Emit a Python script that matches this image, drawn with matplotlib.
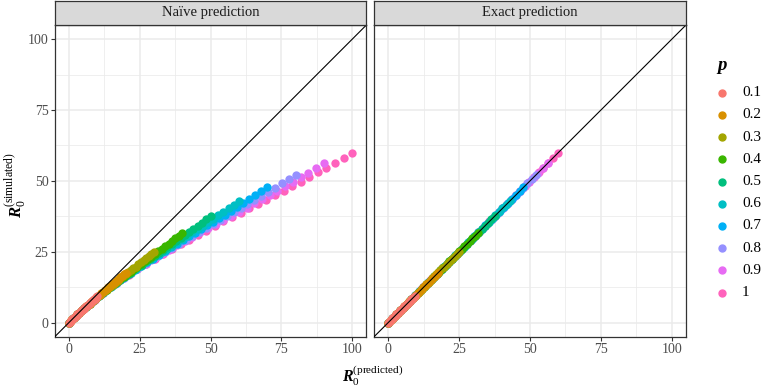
import matplotlib
matplotlib.use('Agg')
import matplotlib.pyplot as plt
from matplotlib.lines import Line2D

plt.rcParams['font.family'] = 'Liberation Serif'
plt.rcParams['mathtext.fontset'] = 'custom'
plt.rcParams['mathtext.rm'] = 'Liberation Serif'
plt.rcParams['mathtext.it'] = 'Liberation Serif:italic'
plt.rcParams['mathtext.bf'] = 'Liberation Serif:bold'
plt.rcParams['mathtext.bfit'] = 'Liberation Serif:italic:bold'

p_labels = ['0.1', '0.2', '0.3', '0.4', '0.5', '0.6', '0.7', '0.8', '0.9', '1']
colors = ['#F8766D', '#D89000', '#A3A500', '#39B600', '#00BF7D',
          '#00BFC4', '#00B0F6', '#9590FF', '#E76BF3', '#FF62BC']
panel_titles = ['Naïve prediction', 'Exact prediction']

# naive predicted R0 / simulated R0, one pair per p
pred_01 = [0, 0.3, 0.6, 0.9, 1.2, 1.5, 1.8, 2.1, 2.4, 2.7, 3.0, 3.3, 3.6, 3.9, 4.2, 4.5, 4.8,
           5.2, 5.5, 5.8, 6.1, 6.4, 6.7, 7.0, 7.3, 7.6, 7.9, 8.2, 8.5, 8.8, 9.1, 9.4, 9.7, 10.0]
sim_01 = [0, 0.3, 0.6, 0.9, 1.2, 1.5, 1.8, 2.1, 2.4, 2.6, 2.9, 3.2, 3.5, 3.8, 4.1, 4.3, 4.6,
          4.9, 5.2, 5.5, 5.7, 6.0, 6.3, 6.6, 6.9, 7.1, 7.4, 7.7, 8.0, 8.2, 8.5, 8.8, 9.1, 9.4]

pred_02 = [0, 0.6, 1.2, 1.8, 2.4, 3.0, 3.6, 4.2, 4.8, 5.5, 6.1, 6.7, 7.3, 7.9, 8.5, 9.1, 9.7,
           10.3, 10.9, 11.5, 12.1, 12.7, 13.3, 13.9, 14.5, 15.2, 15.8, 16.4, 17.0, 17.6, 18.2, 18.8, 19.4, 20.0]
sim_02 = [0, 0.6, 1.2, 1.8, 2.4, 2.9, 3.5, 4.0, 4.6, 5.1, 5.7, 6.2, 6.7, 7.3, 7.8, 8.3, 8.8,
          9.3, 9.9, 10.4, 10.9, 11.4, 11.9, 12.4, 12.9, 13.5, 14.0, 14.5, 15.0, 15.5, 16.1, 16.6, 17.1, 17.6]

pred_03 = [0, 0.9, 1.8, 2.7, 3.6, 4.5, 5.5, 6.4, 7.3, 8.2, 9.1, 10.0, 10.9, 11.8, 12.7, 13.6, 14.5,
           15.5, 16.4, 17.3, 18.2, 19.1, 20.0, 20.9, 21.8, 22.7, 23.6, 24.5, 25.5, 26.4, 27.3, 28.2, 29.1, 30.0]
sim_03 = [0, 0.9, 1.8, 2.6, 3.5, 4.3, 5.1, 5.9, 6.7, 7.5, 8.2, 9.0, 9.7, 10.5, 11.2, 12.0, 12.7,
          13.4, 14.1, 14.8, 15.6, 16.3, 17.0, 17.7, 18.4, 19.1, 19.8, 20.6, 21.3, 22.0, 22.8, 23.5, 24.2, 25.0]

pred_04 = [0, 1.2, 2.4, 3.6, 4.8, 6.1, 7.3, 8.5, 9.7, 10.9, 12.1, 13.3, 14.5, 15.8, 17.0, 18.2, 19.4,
           20.6, 21.8, 23.0, 24.2, 25.5, 26.7, 27.9, 29.1, 30.3, 31.5, 32.7, 33.9, 35.2, 36.4, 37.6, 38.8, 40.0]
sim_04 = [0, 1.2, 2.4, 3.5, 4.6, 5.6, 6.7, 7.7, 8.7, 9.7, 10.7, 11.6, 12.6, 13.5, 14.4, 15.3, 16.2,
          17.1, 18.0, 18.9, 19.8, 20.7, 21.6, 22.4, 23.3, 24.2, 25.1, 26.0, 26.9, 27.8, 28.8, 29.7, 30.6, 31.6]

pred_05 = [0, 1.5, 3.0, 4.5, 6.1, 7.6, 9.1, 10.6, 12.1, 13.6, 15.2, 16.7, 18.2, 19.7, 21.2, 22.7, 24.2,
           25.8, 27.3, 28.8, 30.3, 31.8, 33.3, 34.8, 36.4, 37.9, 39.4, 40.9, 42.4, 43.9, 45.5, 47.0, 48.5, 50.0]
sim_05 = [0, 1.5, 2.9, 4.3, 5.6, 6.9, 8.2, 9.4, 10.6, 11.8, 12.9, 14.1, 15.2, 16.3, 17.3, 18.4, 19.5,
          20.5, 21.6, 22.6, 23.6, 24.7, 25.7, 26.8, 27.8, 28.8, 29.9, 30.9, 32.0, 33.1, 34.2, 35.3, 36.4, 37.5]

pred_06 = [0, 1.8, 3.6, 5.5, 7.3, 9.1, 10.9, 12.7, 14.5, 16.4, 18.2, 20.0, 21.8, 23.6, 25.5, 27.3, 29.1,
           30.9, 32.7, 34.5, 36.4, 38.2, 40.0, 41.8, 43.6, 45.5, 47.3, 49.1, 50.9, 52.7, 54.5, 56.4, 58.2, 60.0]
sim_06 = [0, 1.8, 3.5, 5.1, 6.7, 8.2, 9.6, 11.1, 12.4, 13.8, 15.1, 16.4, 17.6, 18.9, 20.1, 21.3, 22.5,
          23.7, 24.8, 26.0, 27.2, 28.3, 29.5, 30.7, 31.8, 33.0, 34.2, 35.4, 36.6, 37.8, 39.1, 40.3, 41.6, 42.9]

pred_07 = [0, 2.1, 4.2, 6.4, 8.5, 10.6, 12.7, 14.8, 17.0, 19.1, 21.2, 23.3, 25.5, 27.6, 29.7, 31.8, 33.9,
           36.1, 38.2, 40.3, 42.4, 44.5, 46.7, 48.8, 50.9, 53.0, 55.2, 57.3, 59.4, 61.5, 63.6, 65.8, 67.9, 70.0]
sim_07 = [0, 2.1, 4.0, 5.9, 7.7, 9.4, 11.0, 12.6, 14.2, 15.7, 17.1, 18.5, 19.9, 21.3, 22.6, 24.0, 25.3,
          26.6, 27.9, 29.1, 30.4, 31.7, 33.0, 34.3, 35.6, 36.8, 38.1, 39.5, 40.8, 42.1, 43.5, 44.9, 46.3, 47.7]

pred_08 = [0, 2.4, 4.8, 7.3, 9.7, 12.1, 14.5, 17.0, 19.4, 21.8, 24.2, 26.7, 29.1, 31.5, 33.9, 36.4, 38.8,
           41.2, 43.6, 46.1, 48.5, 50.9, 53.3, 55.8, 58.2, 60.6, 63.0, 65.5, 67.9, 70.3, 72.7, 75.2, 77.6, 80.0]
sim_08 = [0, 2.3, 4.6, 6.7, 8.6, 10.5, 12.4, 14.1, 15.8, 17.4, 19.0, 20.6, 22.1, 23.6, 25.0, 26.5, 27.9,
          29.3, 30.7, 32.0, 33.4, 34.8, 36.2, 37.6, 39.0, 40.4, 41.8, 43.2, 44.6, 46.1, 47.6, 49.1, 50.6, 52.2]

pred_09 = [0, 2.7, 5.5, 8.2, 10.9, 13.6, 16.4, 19.1, 21.8, 24.5, 27.3, 30.0, 32.7, 35.5, 38.2, 40.9, 43.6,
           46.4, 49.1, 51.8, 54.5, 57.3, 60.0, 62.7, 65.5, 68.2, 70.9, 73.6, 76.4, 79.1, 81.8, 84.5, 87.3, 90.0]
sim_09 = [0, 2.6, 5.1, 7.4, 9.6, 11.7, 13.7, 15.6, 17.4, 19.1, 20.8, 22.5, 24.1, 25.7, 27.3, 28.8, 30.3,
          31.8, 33.3, 34.7, 36.2, 37.7, 39.1, 40.6, 42.1, 43.6, 45.1, 46.6, 48.1, 49.7, 51.3, 52.9, 54.6, 56.2]

pred_10 = [0, 3.0, 6.1, 9.1, 12.1, 15.2, 18.2, 21.2, 24.2, 27.3, 30.3, 33.3, 36.4, 39.4, 42.4, 45.5, 48.5,
           51.5, 54.5, 57.6, 60.6, 63.6, 66.7, 69.7, 72.7, 75.8, 78.8, 81.8, 84.8, 87.9, 90.9, 93.9, 97.0, 100.0]
sim_10 = [0, 2.9, 5.6, 8.1, 10.5, 12.8, 14.9, 16.9, 18.9, 20.8, 22.6, 24.3, 26.0, 27.7, 29.3, 31.0, 32.5,
          34.1, 35.7, 37.2, 38.8, 40.3, 41.9, 43.4, 45.0, 46.5, 48.1, 49.7, 51.4, 53.0, 54.7, 56.4, 58.2, 60.0]

naive_pred = [pred_01, pred_02, pred_03, pred_04, pred_05, pred_06, pred_07, pred_08, pred_09, pred_10]
simulated = [sim_01, sim_02, sim_03, sim_04, sim_05, sim_06, sim_07, sim_08, sim_09, sim_10]

W, H = 768, 389
fig = plt.figure(figsize=(W / 100, H / 100), dpi=100)
bot = 1 - 336.8 / H
ht = (336.8 - 25) / H
ax1 = fig.add_axes([54.7 / W, bot, (366.4 - 54.7) / W, ht])
ax2 = fig.add_axes([374 / W, bot, (686 - 374) / W, ht])

for ax, title, exact in [(ax1, panel_titles[0], False), (ax2, panel_titles[1], True)]:
    # draw p = 1 first so the small-p points end up on top, as in the original
    for i in range(len(p_labels) - 1, -1, -1):
        # exact prediction matches the simulated value
        xv = simulated[i] if exact else naive_pred[i]
        ax.scatter(xv, simulated[i], s=36, color=colors[i], linewidths=0, zorder=2)
    ax.axline((0, 0), slope=1, color='black', lw=0.8, zorder=3)
    ax.set_xlim(-5, 105)
    ax.set_ylim(-5, 105)
    ax.set_xticks([0, 25, 50, 75, 100])
    ax.set_yticks([0, 25, 50, 75, 100])
    ax.set_xticks([12.5, 37.5, 62.5, 87.5], minor=True)
    ax.set_yticks([12.5, 37.5, 62.5, 87.5], minor=True)
    ax.grid(which='major', color='#EBEBEB', lw=1.1, zorder=0)
    ax.grid(which='minor', color='#EBEBEB', lw=0.55, zorder=0)
    ax.set_axisbelow(True)
    ax.tick_params(which='major', length=3, width=0.8, color='#333333',
                   labelcolor='#4D4D4D', labelsize=10, pad=1.5)
    ax.tick_params(which='minor', length=0)
    for sp in ax.spines.values():
        sp.set_color('#333333')
        sp.set_linewidth(0.9)

    # facet strip
    pos = ax.get_position()
    sax = fig.add_axes([pos.x0, 1 - 25 / H, pos.width, 24.5 / H])
    sax.set_facecolor('#D9D9D9')
    sax.set_xticks([])
    sax.set_yticks([])
    for sp in sax.spines.values():
        sp.set_color('#333333')
        sp.set_linewidth(0.9)
    sax.text(0.5, 0.5, title, ha='center', va='center', fontsize=10.5,
             color='#1A1A1A', transform=sax.transAxes)

ax2.tick_params(axis='y', which='both', left=False, labelleft=False)

fig.text(373 / W, 1.5 / H, r'$\mathbfit{R}_{\mathrm{0}}^{\mathrm{(predicted)}}$',
         ha='center', va='bottom', fontsize=11.5)
fig.text(2.5 / W, 1 - 185 / H, r'$\mathbfit{R}_{\mathrm{0}}^{\mathrm{(simulated)}}$',
         ha='left', va='center', rotation=90, fontsize=12)

# legend
fig.text(716 / W, 1 - 68 / H, r'$\mathbfit{p}$', ha='left', va='center', fontsize=13.5)
for i, lab in enumerate(p_labels):
    yy = 1 - (92.7 + 22.2 * i) / H
    fig.add_artist(Line2D([722.3 / W], [yy], marker='o', markersize=5,
                          color=colors[i], lw=0, transform=fig.transFigure))
    fig.text(742 / W, yy, lab, ha='left', va='center', fontsize=11, color='black')

fig.savefig('out.png', dpi=100)
